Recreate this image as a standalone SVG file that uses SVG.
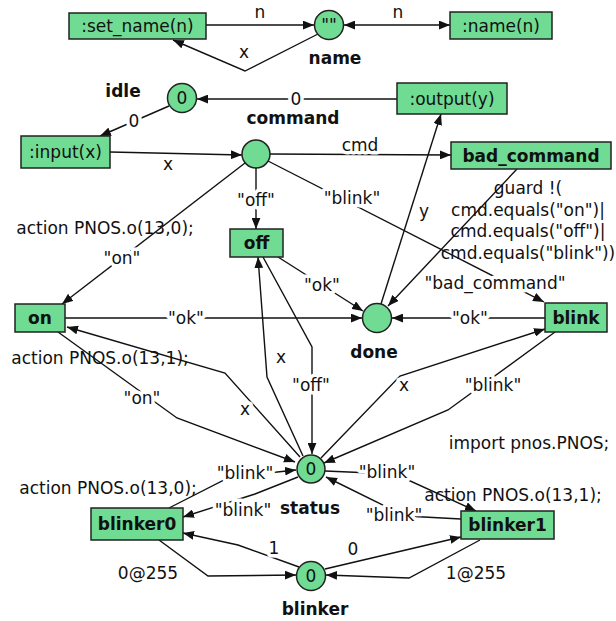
<svg xmlns="http://www.w3.org/2000/svg" width="616" height="621" viewBox="0 0 616 621">
<style>
  text { font-family: "DejaVu Sans", "Liberation Sans", sans-serif; font-size: 17px; fill: #111; text-anchor: middle; }
  .b { font-weight: bold; }
  .tr rect { fill: #70db93; stroke: #222; stroke-width: 1.5; }
  .pl circle { fill: #70db93; stroke: #222; stroke-width: 1.5; }
  #edges path { fill: none; stroke: #111; stroke-width: 1.4; marker-end: url(#arr); }
  .lbl text { paint-order: stroke; stroke: #fff; stroke-width: 7px; stroke-linejoin: round; }
</style>
<defs>
  <marker id="arr" viewBox="0 0 10 8" refX="10" refY="4" markerWidth="11" markerHeight="9" markerUnits="userSpaceOnUse" orient="auto-start-reverse">
    <path d="M0,0 L10,4 L0,8 z" fill="#111"/>
  </marker>
</defs>
<rect width="616" height="621" fill="#fff"/>

<!-- annotations -->
<g id="notes">
  <text x="105" y="234">action PNOS.o(13,0);</text>
  <text x="100" y="364">action PNOS.o(13,1);</text>
  <text x="529" y="449">import pnos.PNOS;</text>
  <text x="528" y="194">guard !(</text>
  <text x="528" y="216">cmd.equals("on")|</text>
  <text x="528" y="237">cmd.equals("off")|</text>
  <text x="528" y="259">cmd.equals("blink"))</text>
  <text x="108" y="494">action PNOS.o(13,0);</text>
  <text x="513" y="501">action PNOS.o(13,1);</text>
</g>

<!-- connectors -->
<g id="edges">
  <path d="M206,25 L314,25"/>
  <path d="M318,34 L245,71 L173,40"/>
  <path d="M344,25 L450,25" style="marker-start:url(#arr)"/>
  <path d="M397,99 L197,99"/>
  <path d="M169,106 L100,136"/>
  <path d="M110,152 L242,155"/>
  <path d="M270,154 L451,155"/>
  <path d="M256,168 L256,229"/>
  <path d="M245,163 L62,304"/>
  <path d="M268,161 L544,302"/>
  <path d="M517,169 L388,306"/>
  <path d="M381,304 L441,114"/>
  <path d="M278,257 L363,311"/>
  <path d="M65,318 L362,318"/>
  <path d="M545,318 L392,318"/>
  <path d="M58,332 L177,418 L295,462"/>
  <path d="M300,457 L225,373 L67,327"/>
  <path d="M263,257 L312,347 L312,454"/>
  <path d="M303,456 L267,377 L258,257"/>
  <path d="M555,332 L448,410 L324,463"/>
  <path d="M321,458 L400,376 L545,329"/>
  <path d="M325,471 L395,474 L476,511"/>
  <path d="M461,519 L405,516 L326,477"/>
  <path d="M298,477 L255,494 L183,517"/>
  <path d="M169,508 L230,477 L296,470"/>
  <path d="M159,540 L208,576 L296,575"/>
  <path d="M299,567 L238,545 L183,533"/>
  <path d="M325,569 L461,537"/>
  <path d="M480,540 L409,578 L326,575"/>
</g>

<!-- connector labels -->
<g class="lbl">
  <text x="260" y="18">n</text>
  <text x="244" y="58">x</text>
  <text x="398" y="18">n</text>
  <text x="296" y="105">0</text>
  <text x="134" y="127">0</text>
  <text x="168" y="170">x</text>
  <text x="360" y="151">cmd</text>
  <text x="256" y="206">"off"</text>
  <text x="122" y="264">"on"</text>
  <text x="352" y="204">"blink"</text>
  <text x="495" y="289">"bad_command"</text>
  <text x="424" y="217">y</text>
  <text x="322" y="291">"ok"</text>
  <text x="186" y="324">"ok"</text>
  <text x="470" y="324">"ok"</text>
  <text x="142" y="404">"on"</text>
  <text x="245" y="415">x</text>
  <text x="311" y="391">"off"</text>
  <text x="281" y="363">x</text>
  <text x="493" y="391">"blink"</text>
  <text x="404" y="391">x</text>
  <text x="387" y="478">"blink"</text>
  <text x="394" y="521">"blink"</text>
  <text x="243" y="516">"blink"</text>
  <text x="245" y="479">"blink"</text>
  <text x="148" y="579">0@255</text>
  <text x="274" y="554">1</text>
  <text x="353" y="555">0</text>
  <text x="476" y="579">1@255</text>
</g>

<!-- transitions -->
<g id="t_set_name" class="tr"><rect x="69" y="13" width="137" height="26"/><text x="137.5" y="32">:set_name(n)</text></g>
<g id="t_name" class="tr"><rect x="450" y="12" width="102" height="27"/><text x="501" y="31.5">:name(n)</text></g>
<g id="t_output" class="tr"><rect x="397" y="83" width="110" height="31"/><text x="452" y="104.5">:output(y)</text></g>
<g id="t_input" class="tr"><rect x="21" y="136" width="89" height="32"/><text x="65.5" y="158">:input(x)</text></g>
<g id="t_bad_command" class="tr"><rect x="451" y="142" width="160" height="27"/><text class="b" x="531" y="161.5">bad_command</text></g>
<g id="t_off" class="tr"><rect x="230" y="229" width="53" height="28"/><text class="b" x="256.5" y="249">off</text></g>
<g id="t_on" class="tr"><rect x="15" y="304" width="50" height="28"/><text class="b" x="40" y="324">on</text></g>
<g id="t_blink" class="tr"><rect x="545" y="303" width="62" height="29"/><text class="b" x="576" y="323.5">blink</text></g>
<g id="t_blinker0" class="tr"><rect x="91" y="508" width="92" height="32"/><text class="b" x="137" y="530">blinker0</text></g>
<g id="t_blinker1" class="tr"><rect x="461" y="511" width="93" height="28"/><text class="b" x="507.5" y="531">blinker1</text></g>

<!-- places -->
<g id="p_name" class="pl"><circle cx="329" cy="25" r="14.5"/><text x="329" y="31">""</text><text class="b" x="335" y="64">name</text></g>
<g id="p_idle" class="pl"><circle cx="182" cy="98" r="14.5"/><text x="182" y="104">0</text><text class="b" x="123" y="97">idle</text></g>
<g id="p_command" class="pl"><circle cx="256" cy="154" r="14"/><text class="b" x="293" y="124">command</text></g>
<g id="p_done" class="pl"><circle cx="377" cy="318" r="14.5"/><text class="b" x="374" y="358">done</text></g>
<g id="p_status" class="pl"><circle cx="311" cy="469" r="14"/><text x="311" y="475">0</text><text class="b" x="310" y="514">status</text></g>
<g id="p_blinker" class="pl"><circle cx="311" cy="576" r="14.5"/><text x="311" y="582">0</text><text class="b" x="315" y="615">blinker</text></g>
</svg>
